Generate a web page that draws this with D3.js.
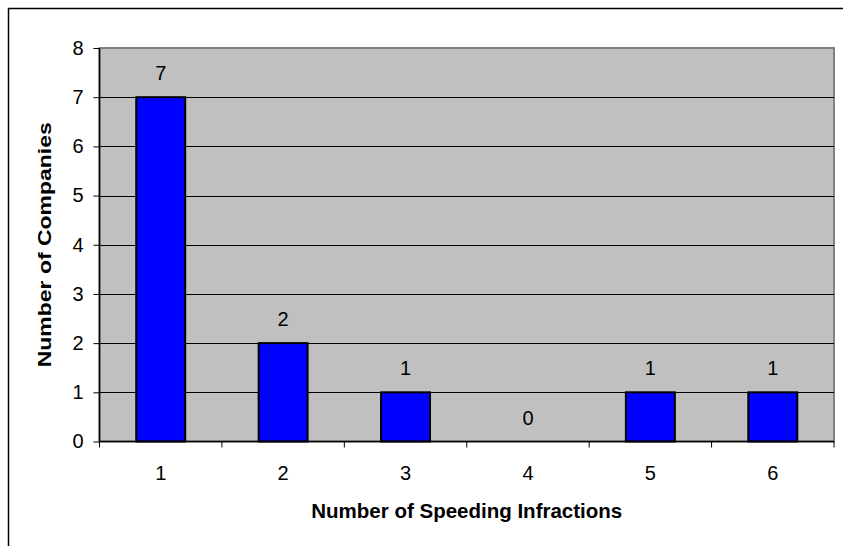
<!DOCTYPE html>
<html>
<head>
<meta charset="utf-8">
<script src="https://cdn.jsdelivr.net/npm/d3@7"></script>
<style>
  body { margin: 0; background: #ffffff; }
  svg { display: block; font-family: Arial, "Liberation Sans", sans-serif; }
</style>
</head>
<body>
<div id="viz-container"></div>
<script>
let w = 843;
let h = 546;

// data
const infractions = ["1", "2", "3", "4", "5", "6"];
const companies = [7, 2, 1, 0, 1, 1];
const yTicks = [0, 1, 2, 3, 4, 5, 6, 7, 8];

let plot = { left: 99.5, top: 48, right: 834, bottom: 441.5 };

let viz = d3.select("#viz-container")
              .append("svg")
              .attr("width", w)
              .attr("height", h);

// outer chart border (only top/left are inside the frame)
viz.append("rect")
    .attr("x", 8.5).attr("y", 8.5)
    .attr("width", w + 20).attr("height", h + 20)
    .attr("fill", "#ffffff")
    .attr("stroke", "#000000")
    .attr("stroke-width", 1.5);

let x = d3.scaleBand()
          .domain(infractions)
          .range([plot.left, plot.right])
          .paddingInner(0.6)
          .paddingOuter(0.3);
let xAxisBand = d3.scaleBand().domain(infractions).range([plot.left, plot.right]);
let y = d3.scaleLinear().domain([0, 8]).range([plot.bottom, plot.top]);

// plot area
viz.append("rect")
    .attr("x", plot.left).attr("y", plot.top)
    .attr("width", plot.right - plot.left).attr("height", plot.bottom - plot.top)
    .attr("fill", "#c0c0c0")
    .attr("stroke", "#808080")
    .attr("stroke-width", 2);

// gridlines
viz.selectAll(".grid").data(yTicks.filter(d => d > 0 && d < 8))
    .enter().append("line")
    .attr("class", "grid")
    .attr("x1", plot.left).attr("x2", plot.right)
    .attr("y1", d => Math.round(y(d)) + 0.5).attr("y2", d => Math.round(y(d)) + 0.5)
    .attr("stroke", "#000000")
    .attr("stroke-width", 1);

// bars
viz.selectAll(".bar").data(companies)
    .enter().append("rect")
    .attr("class", "bar")
    .attr("x", (d, i) => x(infractions[i]))
    .attr("y", d => y(d))
    .attr("width", x.bandwidth())
    .attr("height", d => y(0) - y(d))
    .attr("fill", "#0000ff")
    .attr("stroke", "#000000")
    .attr("stroke-width", 2)
    .attr("display", d => d > 0 ? null : "none");

// value labels
viz.selectAll(".val").data(companies)
    .enter().append("text")
    .attr("class", "val")
    .text(d => d)
    .attr("x", (d, i) => x(infractions[i]) + x.bandwidth() / 2)
    .attr("y", d => y(d) - 17)
    .attr("text-anchor", "middle")
    .attr("font-size", 20)
    .attr("fill", "#000000");

// y axis
let yAxis = d3.axisLeft(y).tickValues(yTicks).tickSize(6).tickPadding(10);
let gy = viz.append("g")
    .attr("transform", `translate(${plot.left},0)`)
    .call(yAxis);
gy.select(".domain").attr("stroke", "#000000").attr("stroke-width", 1.5).attr("d", `M0,${plot.top}V${plot.bottom}`);
gy.selectAll("text").attr("font-size", 20).attr("font-family", "Arial, 'Liberation Sans', sans-serif").attr("fill", "#000000");

// x axis: ticks on category boundaries
let gx = viz.append("g").attr("transform", `translate(0,${plot.bottom})`);
gx.append("line")
    .attr("x1", plot.left).attr("x2", plot.right)
    .attr("stroke", "#000000").attr("stroke-width", 1.5);
gx.selectAll(".xtick").data(infractions.map(c => xAxisBand(c)).concat([plot.right]))
    .enter().append("line")
    .attr("class", "xtick")
    .attr("x1", d => d).attr("x2", d => d)
    .attr("y1", 0).attr("y2", 6)
    .attr("stroke", "#000000");
gx.selectAll(".xlab").data(infractions)
    .enter().append("text")
    .attr("class", "xlab")
    .text(d => d)
    .attr("x", d => xAxisBand(d) + xAxisBand.bandwidth() / 2)
    .attr("y", 38)
    .attr("text-anchor", "middle")
    .attr("font-size", 20);

// axis titles
viz.append("text")
    .text("Number of Speeding Infractions")
    .attr("x", (plot.left + plot.right) / 2)
    .attr("y", 518)
    .attr("text-anchor", "middle")
    .attr("font-size", 20.5)
    .attr("font-weight", "bold");

viz.append("text")
    .text("Number of Companies")
    .attr("transform", `translate(51,${(plot.top + plot.bottom) / 2}) rotate(-90)`)
    .attr("text-anchor", "middle")
    .attr("font-size", 19)
    .attr("font-weight", "bold")
    .attr("textLength", 245)
    .attr("lengthAdjust", "spacingAndGlyphs");
</script>
</body>
</html>
